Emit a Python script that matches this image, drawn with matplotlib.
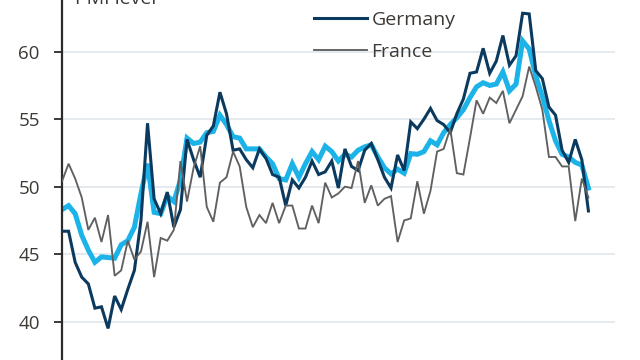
"""PMI : Allemagne, France et zone euro (niveau)."""

import matplotlib
matplotlib.use("Agg")
import matplotlib.pyplot as plt
import numpy as np

# valeurs, une par mois
germany = [
    46.7, 46.7, 44.4, 43.3, 42.8, 41.0, 41.1, 39.5, 41.9, 40.9,
    42.4, 43.8, 47.5, 54.7, 49.1, 48.0, 49.6, 47.0, 48.3, 53.5,
    52.0, 50.7, 53.8, 54.5, 57.0, 55.4, 52.7, 52.8, 52.0, 51.4,
    52.8, 52.1, 50.9, 50.7, 48.6, 50.5, 49.9, 50.7, 51.9, 50.9,
    51.1, 51.9, 49.9, 52.8, 51.5, 51.2, 52.7, 53.2, 52.0, 50.7,
    49.9, 52.35, 51.2, 54.8, 54.3, 55.0, 55.8, 54.9, 54.6, 54.0,
    55.4, 56.5, 58.4, 58.5, 60.25, 58.4, 59.3, 61.2, 59.0, 59.7,
    62.85, 62.8, 58.6, 58.0, 55.9, 55.3, 52.7, 51.8, 53.5, 52.0,
    48.2,
]
euro_area = [
    48.3, 48.6, 48.0, 46.4, 45.3, 44.4, 44.8, 44.75, 44.7, 45.7,
    46.0, 47.0, 49.5, 51.7, 48.1, 48.0, 49.3, 48.9, 50.5, 53.6,
    53.2, 53.3, 54.0, 54.1, 55.3, 54.6, 53.7, 53.6, 52.8, 52.8,
    52.8, 52.2, 51.7, 50.6, 50.5, 51.7, 50.7, 51.7, 52.6, 52.0,
    53.0, 52.6, 51.9, 52.4, 52.2, 52.7, 52.95, 53.1, 52.2, 51.4,
    50.95, 51.3, 51.0, 52.45, 52.4, 52.6, 53.4, 53.1, 54.0, 54.6,
    55.1, 55.7, 56.6, 57.4, 57.7, 57.5, 57.6, 58.5, 57.1, 57.6,
    60.8, 60.2, 58.2, 56.7, 54.9, 53.4, 52.4, 52.2, 51.8, 51.6,
    49.9,
]
france = [
    50.4, 51.7, 50.6, 49.2, 46.8, 47.7, 45.9, 47.9, 43.4, 43.8,
    46.0, 44.6, 45.2, 47.4, 43.3, 46.2, 46.0, 46.8, 51.9, 48.9,
    51.4, 53.0, 48.5, 47.4, 50.3, 50.7, 52.6, 51.5, 48.5, 47.0,
    47.9, 47.3, 48.8, 47.3, 48.6, 48.6, 46.9, 46.9, 48.6, 47.3,
    50.3, 49.2, 49.5, 50.0, 49.9, 51.9, 48.8, 50.1, 48.6, 49.1,
    49.3, 45.9, 47.5, 47.65, 50.4, 48.0, 49.7, 52.6, 52.8, 54.3,
    51.0, 50.9, 53.6, 56.4, 55.4, 56.6, 56.2, 57.1, 54.7, 55.7,
    56.7, 58.9, 57.4, 55.7, 52.2, 52.2, 51.5, 51.5, 47.45, 50.6,
    49.2,
]
yticks = [40, 45, 50, 55, 60]

NAVY = "#0b3a5e"
CYAN = "#1cb4e8"
GREY = "#606060"
TEXT = "#3d3935"

plt.rcParams["font.family"] = ["Open Sans", "DejaVu Sans"]

x = np.arange(len(germany))

fig = plt.figure(figsize=(6.4, 3.6), dpi=100)
ax = fig.add_axes([62 / 640, 0, 553 / 640, 1])

ax.plot(x, euro_area, color=CYAN, lw=3.6, solid_joinstyle="miter", zorder=2)
ax.plot(x, germany, color=NAVY, lw=2.2, solid_joinstyle="miter", zorder=3,
        label="Germany")
ax.plot(x, france, color=GREY, lw=1.35, solid_joinstyle="miter", zorder=4,
        label="France")

ax.set_xlim(0, 84.04)
ax.set_ylim(37.16, 63.83)
ax.set_yticks(yticks)
ax.set_xticks([])
ax.grid(axis="y", color="#dde4ea", lw=1.1, zorder=0)
ax.set_axisbelow(True)

for s in ["top", "right", "bottom"]:
    ax.spines[s].set_visible(False)
ax.spines["left"].set_color("#2b2b2b")
ax.spines["left"].set_linewidth(1.6)
ax.tick_params(axis="y", length=6, width=1.3, color="#2b2b2b", pad=10,
               labelsize=13.5, labelcolor=TEXT)

# titre d'axe, coupé par le bord haut comme sur l'original
ax.text(13 / 553, 1 - 4 / 360, "PMI level", transform=ax.transAxes,
        ha="left", va="baseline", fontsize=14, color=TEXT, clip_on=False)

leg = ax.legend(loc="upper left", bbox_to_anchor=(252 / 553, 1 - 11 / 360),
                frameon=False, fontsize=14, handlelength=2.7,
                handletextpad=0.26, labelspacing=0.72, borderpad=0,
                borderaxespad=0)
for t in leg.get_texts():
    t.set_color(TEXT)

fig.savefig("out.png", dpi=100)
